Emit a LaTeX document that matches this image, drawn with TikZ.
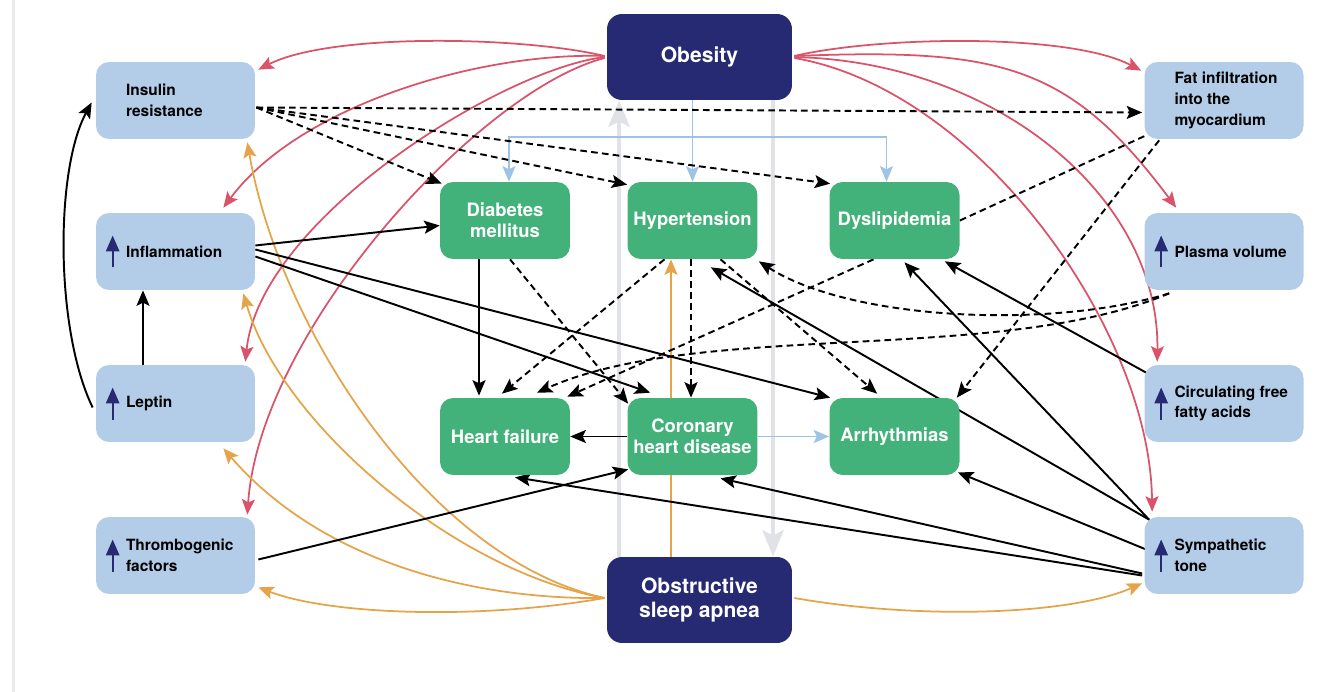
\documentclass[tikz,border=0pt]{standalone}
\usepackage{fontspec}
\setmainfont{TeX Gyre Heros}
\usetikzlibrary{arrows.meta,calc}
\pgfdeclarelayer{bg}
\pgfsetlayers{bg,main}
\definecolor{navy}{HTML}{262A72}
\definecolor{grn}{HTML}{43B27A}
\definecolor{lblue}{HTML}{B3CDE8}
\definecolor{rd}{HTML}{D9546A}
\definecolor{org}{HTML}{E5A44A}
\definecolor{lbarr}{HTML}{9DC3E6}
\definecolor{gry}{HTML}{E1E2E7}
\definecolor{pageline}{HTML}{EBEBEB}
\begin{document}
\begin{tikzpicture}[x=0.02cm,y=-0.02cm,
 >={Stealth[length=8.8pt,width=7.4pt,inset=1.8pt]},
 bluebox/.style={fill=lblue, rounded corners=0.26cm, minimum width=3.18cm, minimum height=1.54cm, inner sep=0},
 btxt/.style={anchor=west, xshift=0.6cm, inner sep=0, align=left, font=\fontsize{8.8}{11.8}\selectfont\bfseries, text=black},
 greenbox/.style={fill=grn, rounded corners=0.26cm, minimum width=2.6cm, minimum height=1.54cm, inner sep=0, align=center, text=white, font=\fontsize{10.5}{12}\selectfont\bfseries},
 navybox/.style={fill=navy, rounded corners=0.3cm, minimum width=3.7cm, minimum height=1.72cm, inner sep=0, align=center, text=white, font=\fontsize{12}{13.6}\selectfont\bfseries},
 blk/.style={->, line width=1.1pt},
 dsh/.style={->, line width=1.1pt, dash pattern=on 3.8pt off 2.4pt},
 dshplain/.style={line width=1.1pt, dash pattern=on 3.8pt off 2.4pt},
 redc/.style={->, draw=rd, line width=1pt},
 orc/.style={->, draw=org, line width=1pt},
 lbc/.style={->, draw=lbarr, line width=1.1pt},
 gyc/.style={-{Stealth[length=15pt,width=12pt,inset=3pt]}, draw=gry, line width=2.8pt},
 icon/.style={-{Triangle[length=9pt,width=7.5pt]}, draw=navy, line width=1.2pt}
]
\useasboundingbox (0,0) rectangle (1318,692);
\draw[pageline, line width=1.7pt] (13.5,0) -- (13.5,692);

% main nodes
\node[navybox] (ob) at (699.5,57) {Obesity};
\node[navybox] (osa) at (699.5,600) {Obstructive\\sleep apnea};
\node[greenbox] (dm) at (505,220.5) {Diabetes\\mellitus};
\node[greenbox] (ht) at (692.5,220.5) {Hypertension};
\node[greenbox] (dl) at (894.5,220.5) {Dyslipidemia};
\node[greenbox] (hf) at (505,436.5) {Heart failure};
\node[greenbox] (chd) at (692.5,436.5) {Coronary\\heart disease};
\node[greenbox] (arr) at (894.5,436.5) {Arrhythmias};

\node[bluebox, label={[btxt]west:{Insulin\\resistance}}] (ins) at (175.5,100.5) {};
\node[bluebox, label={[btxt]west:{Inflammation}}] (inf) at (175.5,251.5) {};
\node[bluebox, label={[btxt]west:{Leptin}}] (lep) at (175.5,403.5) {};
\node[bluebox, label={[btxt]west:{Thrombogenic\\factors}}] (thr) at (175.5,555.5) {};
\node[bluebox, label={[btxt]west:{Fat infiltration\\into the\\myocardium}}] (fat) at (1224,100.5) {};
\node[bluebox, label={[btxt]west:{Plasma volume}}] (pla) at (1224,251.5) {};
\node[bluebox, label={[btxt]west:{Circulating free\\fatty acids}}] (ffa) at (1224,403.5) {};
\node[bluebox, label={[btxt]west:{Sympathetic\\tone}}] (sym) at (1224,555.5) {};

% up-arrow icons
\foreach \n in {inf,lep,thr,pla,ffa,sym}{
  \draw[icon] ($(\n.west)+(17,16)$) -- ($(\n.west)+(17,-16)$);
}

\begin{pgfonlayer}{bg}
% gray bidirectional
\draw[gyc] ($(osa.north)+(-80.5,0)$) -- ($(ob.south)+(-80.5,0)$);
\draw[gyc] ($(ob.south)+(73.5,0)$) -- ($(osa.north)+(73.5,0)$);

% light blue
\draw[lbc] (ht.north |- ob.south) -- (ht.north);
\coordinate (jn) at ($(ht.north)+(0,-45)$);
\draw[lbc] (jn) -| ($(dm.north)+(4,0)$);
\draw[lbc] (jn) -| ($(dl.north)+(-8,0)$);
\draw[lbc] (chd.east) -- (arr.west);

% red from obesity
\draw[redc] ($(ob.west)+(-2,-1)$) .. controls (520,36) and (330,33) .. ($(ins.north east)+(3,8)$);
\draw[redc] ($(ob.west)+(-2,-1)$) .. controls (480,52) and (300,105) .. ($(inf.north east)+(-32,-5)$);
\draw[redc] ($(ob.west)+(-2,0)$) .. controls (500,70) and (260,220) .. ($(lep.north east)+(-10,-3)$);
\draw[redc] ($(ob.west)+(-2,1)$) .. controls (480,90) and (260,330) .. ($(thr.north east)+(-8,-2)$);
\draw[redc] ($(ob.east)+(2,-1)$) .. controls (880,36) and (1070,33) .. ($(fat.north west)+(-3,9)$);
\draw[redc] ($(ob.east)+(2,-1)$) .. controls (1000,48) and (1069,64) .. ($(pla.north west)+(32,-5)$);
\draw[redc] ($(ob.east)+(2,0)$) .. controls (1000,62) and (1160,200) .. ($(ffa.north west)+(13,-3)$);
\draw[redc] ($(ob.east)+(2,1)$) .. controls (980,90) and (1150,330) .. ($(sym.north west)+(8,-5)$);

% orange from OSA
\draw[orc] ($(osa.north)+(-28.5,0)$) -- ($(ht.south)+(-21.5,0)$);
\draw[orc] ($(osa.west)+(-2,-2)$) .. controls (480,620) and (330,615) .. ($(thr.south east)+(3,-7)$);
\draw[orc] ($(osa.west)+(-2,-2)$) .. controls (470,600) and (320,560) .. ($(lep.south east)+(-32,6)$);
\draw[orc] ($(osa.west)+(-2,-2)$) .. controls (450,570) and (280,420) .. ($(inf.south east)+(-12,3)$);
\draw[orc] ($(osa.west)+(-2,-2)$) .. controls (430,560) and (280,330) .. ($(ins.south east)+(-8,3)$);
\draw[orc] ($(osa.east)+(2,-2)$) .. controls (920,620) and (1070,615) .. ($(sym.south west)+(-2,-11)$);

% black dashed from insulin resistance
\draw[dsh] ($(ins.east)+(1,7)$) -- ($(fat.west)+(-2,12)$);
\draw[dsh] ($(ins.east)+(1,7)$) -- ($(dm.north west)+(2,2)$);
\draw[dsh] ($(ins.east)+(1,7)$) -- ($(ht.north west)+(0,3)$);
\draw[dsh] ($(ins.east)+(1,7)$) -- ($(dl.north west)+(1,2)$);

% black solid on the left
\draw[blk] ($(lep.west)+(-3,4)$) .. controls (55,330) and (55,170) .. ($(ins.west)+(-4,2)$);
\draw[blk] ($(lep.north)+(-32.5,0)$) -- ($(inf.south)+(-32.5,0)$);
\draw[blk] ($(inf.east)+(0,-6)$) -- ($(dm.west)+(0,5)$);
\draw[blk] ($(inf.east)+(0,5)$) -- ($(chd.north west)+(23,-5)$);
\draw[blk] ($(inf.east)+(0,-2)$) -- ($(arr.north west)+(1,0)$);
\draw[blk] ($(thr.east)+(3,4)$) -- ($(chd.south west)+(1,-6)$);

% green-to-green
\draw[blk] ($(dm.south)+(-26,0)$) -- ($(hf.north)+(-26,-2)$);
\draw[blk] (chd.west) -- (hf.east);
\draw[dsh] ($(dm.south)+(5,0)$) -- ($(chd.north west)+(1,6)$);
\draw[dsh] ($(ht.south)+(-28,0)$) -- ($(hf.north)+(-3,-4)$);
\draw[dsh] ($(ht.south)+(-1.5,0)$) -- ($(chd.north)+(-1.5,0)$);
\draw[dsh] ($(ht.south)+(28,0)$) -- ($(arr.north west)+(48,-4)$);
\draw[dsh] ($(dl.south)+(-21,0)$) -- ($(hf.north east)+(-3,-1)$);

% right side
\draw[dshplain] (dl.east) -- ($(fat.south west)+(2,-4)$);
\draw[dsh] ($(fat.south west)+(15,1)$) -- ($(arr.north east)+(-3,0)$);
\draw[dsh] ($(pla.south west)+(25,3)$) .. controls (1050,330) and (850,320) .. ($(ht.south east)+(1,2)$);
\draw[dsh] ($(pla.south west)+(25,3)$) .. controls (1000,365) and (700,320) .. ($(hf.north)+(32,-5)$);
\draw[blk] ($(ffa.north west)+(2,8)$) -- ($(dl.south east)+(-15,2)$);
\draw[blk] ($(sym.north west)+(5,3)$) -- ($(ht.south east)+(-47,8)$);
\draw[blk] ($(sym.north west)+(5,3)$) -- ($(dl.south)+(10,3)$);
\draw[blk] ($(sym.west)+(2,-6)$) -- ($(arr.south east)+(-2,-3)$);
\draw[blk] ($(sym.west)+(-2,18)$) -- ($(chd.south)+(28,3)$);
\draw[blk] ($(sym.west)+(-2,20)$) -- ($(hf.south)+(10,2)$);
\end{pgfonlayer}
\end{tikzpicture}
\end{document}
